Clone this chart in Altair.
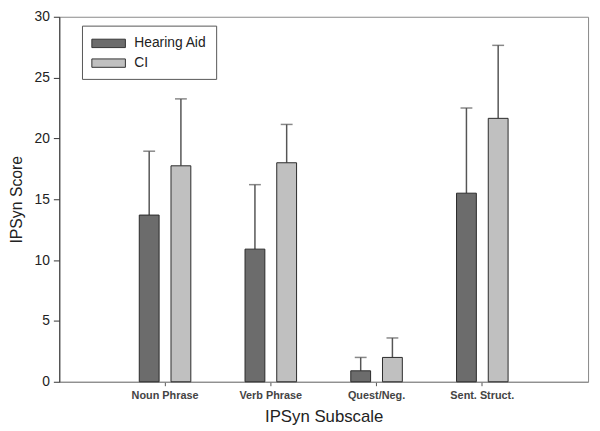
import altair as alt
import pandas as pd

categories = ["Noun Phrase", "Verb Phrase", "Quest/Neg.", "Sent. Struct."]
groups = ["Hearing Aid", "CI"]
ha_mean = [13.7, 10.9, 0.9, 15.5]
ha_upper = [18.95, 16.2, 2.0, 22.5]
ci_mean = [17.75, 18.0, 2.0, 21.65]
ci_upper = [23.25, 21.15, 3.6, 27.65]

rows = []
for i, c in enumerate(categories):
    rows.append({"cat": c, "group": "Hearing Aid", "mean": ha_mean[i], "upper": ha_upper[i]})
    rows.append({"cat": c, "group": "CI", "mean": ci_mean[i], "upper": ci_upper[i]})
df = pd.DataFrame(rows)

FONT = "Liberation Sans"

x = alt.X("cat:N", sort=categories,
          scale=alt.Scale(paddingInner=0.4, paddingOuter=0.7),
          axis=alt.Axis(title="IPSyn Subscale", labelAngle=0, labelFontSize=11,
                        labelFontWeight="bold", labelColor="#444", tickSize=4,
                        tickColor="#555", labelPadding=4, domainColor="#888",
                        titleFontSize=17, titleFontWeight="normal", titlePadding=8,
                        titleColor="#222", labelFont=FONT, titleFont=FONT))
xo = alt.XOffset("group:N", sort=groups,
                 scale=alt.Scale(paddingInner=0.375, paddingOuter=0.1875))

color = alt.Color("group:N", sort=groups,
                  scale=alt.Scale(domain=groups, range=["#6c6c6c", "#c0c0c0"]),
                  legend=alt.Legend(title=None, orient="none", legendX=23, legendY=9,
                                    strokeColor="#555", padding=9, fillColor="white",
                                    symbolType="M-2,-0.5H2V0.5H-2Z", symbolSize=289,
                                    symbolOffset=9,
                                    symbolStrokeColor="#333", symbolStrokeWidth=1,
                                    symbolOpacity=1,
                                    labelFontSize=14, labelFont=FONT, labelColor="#222",
                                    labelOffset=17, rowPadding=4))

y = alt.Y("mean:Q", scale=alt.Scale(domain=[0, 30], nice=False),
          axis=alt.Axis(title="IPSyn Score", values=[0, 5, 10, 15, 20, 25, 30],
                        grid=False, tickSize=6, labelPadding=4, labelFontSize=14,
                        labelFont=FONT, labelColor="#222", domainColor="#333",
                        tickColor="#333", titleFontSize=16, titleFontWeight="normal",
                        titleFont=FONT, titleColor="#222", titlePadding=10))

base = alt.Chart(df)

err = base.mark_rule(color="#555", strokeWidth=1.5).encode(
    x=x, xOffset=xo, y=alt.Y("mean:Q"), y2="upper:Q")
cap = base.mark_tick(color="#555", size=12, thickness=1.5).encode(
    x=x, xOffset=xo, y=alt.Y("upper:Q"))
bars = base.mark_bar(stroke="#2a2a2a", strokeWidth=1, opacity=1).encode(
    x=x, xOffset=xo, y=y, color=color)

chart = alt.layer(err, cap, bars).properties(
    width=536, height=370,
    autosize=alt.AutoSizeParams(type="none"),
    padding={"left": 52, "top": 6, "right": 4, "bottom": 44},
).configure_view(stroke="#888", strokeWidth=1).configure_axis(grid=False)

chart.save("out.html", embed_options={"renderer": "svg", "actions": False})
